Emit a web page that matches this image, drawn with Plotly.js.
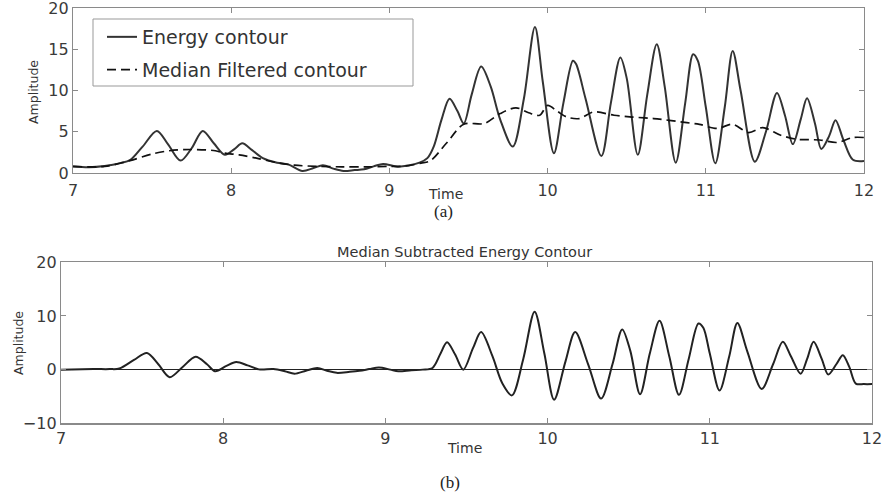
<!DOCTYPE html>
<html>
<head>
<meta charset="utf-8">
<script src="https://cdn.plot.ly/plotly-3.0.1.min.js"></script>
<style>html,body{margin:0;padding:0;background:#fff;}#chart{width:886px;height:497px;}</style>
</head>
<body>
<div id="chart"></div>
<script>
// ---- data ----
const energyTime = [7.00,7.10,7.20,7.30,7.36,7.44,7.53,7.60,7.68,7.75,7.82,7.89,7.96,8.02,8.07,8.13,8.20,8.29,8.36,8.45,8.52,8.58,8.65,8.71,8.78,8.84,8.90,8.96,9.05,9.12,9.19,9.24,9.28,9.33,9.38,9.43,9.47,9.52,9.58,9.64,9.70,9.78,9.85,9.92,9.97,10.04,10.10,10.16,10.18,10.24,10.34,10.40,10.46,10.50,10.57,10.63,10.69,10.74,10.81,10.87,10.92,10.95,11.00,11.06,11.12,11.17,11.22,11.31,11.38,11.45,11.50,11.55,11.60,11.64,11.69,11.73,11.78,11.82,11.87,11.93,12.00];
const energyAmp  = [0.80,0.70,0.85,1.20,1.55,3.2,5.1,3.5,1.5,3.0,5.1,3.6,2.2,2.9,3.6,2.8,1.8,1.25,1.05,0.25,0.6,0.95,0.5,0.25,0.35,0.45,0.8,1.1,0.77,0.9,1.25,1.8,3.2,6.5,9.0,7.5,6.0,9.5,12.9,10.5,6.5,3.2,9.0,17.7,11.0,2.4,8.5,13.6,13.2,9.0,2.06,8.5,14.0,11.5,2.2,9.5,15.6,10.5,1.25,8.5,14.4,13.6,8.0,1.17,8.0,14.8,10.0,1.37,5.0,9.7,7.0,3.5,6.5,9.05,6.0,2.9,4.5,6.4,4.0,1.6,1.45];

const medianTime = [7.00,7.20,7.36,7.50,7.61,7.75,7.90,7.96,8.05,8.16,8.29,8.40,8.55,8.70,8.85,9.00,9.10,9.20,9.26,9.36,9.47,9.60,9.70,9.80,9.88,9.95,10.00,10.06,10.12,10.20,10.29,10.42,10.52,10.67,10.88,10.96,11.07,11.17,11.27,11.36,11.47,11.57,11.72,11.83,11.93,12.00];
const medianAmp  = [0.80,0.80,1.50,2.3,2.7,2.85,2.7,2.4,2.2,1.8,1.25,0.95,0.8,0.75,0.75,0.8,0.85,1.2,1.5,3.6,5.9,6.0,7.2,7.9,7.3,7.0,8.2,7.5,6.8,6.6,7.4,7.0,6.8,6.6,6.1,5.9,5.4,5.9,4.9,5.5,4.6,4.1,4.0,3.7,4.3,4.3];

const diffTime = [7.00,7.20,7.30,7.36,7.45,7.53,7.60,7.67,7.75,7.83,7.90,7.95,8.02,8.08,8.15,8.22,8.31,8.38,8.44,8.51,8.58,8.64,8.70,8.78,8.84,8.90,8.96,9.03,9.08,9.16,9.23,9.29,9.34,9.38,9.43,9.48,9.54,9.59,9.66,9.72,9.78,9.85,9.92,9.98,10.04,10.11,10.17,10.25,10.33,10.40,10.46,10.51,10.57,10.63,10.69,10.75,10.81,10.87,10.93,10.96,11.00,11.06,11.12,11.17,11.23,11.32,11.39,11.45,11.50,11.56,11.60,11.64,11.69,11.73,11.78,11.82,11.86,11.90,11.95,12.00];
const diffAmp  = [0.0,0.1,0.1,0.2,1.8,3.1,1.0,-1.4,0.5,2.4,1.0,-0.3,0.7,1.4,0.8,0.05,0.1,-0.3,-0.75,-0.2,0.3,-0.2,-0.6,-0.4,-0.2,0.1,0.4,0.0,-0.3,-0.1,0.0,0.3,3.0,5.1,2.8,0.0,4.0,7.0,2.5,-2.5,-4.8,2.0,10.8,3.0,-5.6,1.5,7.0,1.0,-5.4,1.0,7.5,3.5,-4.6,3.0,9.1,2.5,-4.7,2.0,8.6,7.8,3.0,-3.9,2.5,8.7,3.5,-3.6,1.0,5.2,2.5,-0.75,2.0,5.2,2.0,-0.9,1.0,2.7,0.5,-2.6,-2.7,-2.7];

const xTicks = [7,8,9,10,11,12];
const yTicksTop = [0,5,10,15,20];
const yTicksBottom = [-10,0,10,20];
const seriesNames = ['Energy contour','Median Filtered contour'];
const bottomTitle = 'Median Subtracted Energy Contour';

// ---- layout helpers ----
const W = 886, H = 497;
const px = v => v / W;
const py = v => 1 - v / H;
const FONT = 'DejaVu Sans, Arial, sans-serif';

const axisCommon = {
  showline: true, mirror: 'ticks', linecolor: '#8a8a8a', linewidth: 1.2,
  ticks: 'inside', ticklen: 5, tickcolor: '#8a8a8a', tickwidth: 1,
  showgrid: false, zeroline: false, ticklabeloverflow: 'allow',
  tickfont: {family: FONT, size: 16, color: '#3a3a3a'}
};

const traces = [
  {x: energyTime, y: energyAmp, xaxis: 'x', yaxis: 'y', type: 'scatter', mode: 'lines',
   name: seriesNames[0], legendgroup: 'a', line: {color: '#333', width: 2, shape: 'spline', smoothing: 0.9}},
  {x: medianTime, y: medianAmp, xaxis: 'x', yaxis: 'y', type: 'scatter', mode: 'lines',
   name: seriesNames[1], legendgroup: 'b', line: {color: '#111', width: 1.7, dash: '9px,5px', shape: 'spline', smoothing: 0.9}},
  {x: diffTime, y: diffAmp, xaxis: 'x2', yaxis: 'y2', type: 'scatter', mode: 'lines',
   showlegend: false, line: {color: '#222', width: 2, shape: 'spline', smoothing: 0.9}}
];

const layout = {
  width: W, height: H,
  margin: {l: 0, r: 0, t: 0, b: 0},
  paper_bgcolor: '#fff', plot_bgcolor: '#fff',
  showlegend: true,
  legend: {x: px(102), y: py(18), xanchor: 'left', yanchor: 'top',
           bgcolor: 'rgba(0,0,0,0)', borderwidth: 0, traceorder: 'grouped', tracegroupgap: 5,
           font: {family: FONT, size: 19, color: '#333'}},
  xaxis: Object.assign({}, axisCommon, {domain: [px(73), px(864)], range: [7, 12], tickvals: xTicks, anchor: 'y', ticklabelstandoff: 3}),
  yaxis: Object.assign({}, axisCommon, {domain: [py(173), py(8)], range: [0, 20], tickvals: yTicksTop, anchor: 'x'}),
  xaxis2: Object.assign({}, axisCommon, {domain: [px(61), px(872)], range: [7, 12], tickvals: xTicks, anchor: 'y2'}),
  yaxis2: Object.assign({}, axisCommon, {domain: [py(423.3), py(262.3)], range: [-10, 20], tickvals: yTicksBottom, anchor: 'x2',
           zeroline: true, zerolinecolor: '#222', zerolinewidth: 1.2}),
  shapes: [
    {type: 'rect', xref: 'paper', yref: 'paper', x0: px(93), x1: px(413), y0: py(86), y1: py(19),
     line: {color: '#999', width: 1}, fillcolor: 'rgba(0,0,0,0)'}
  ],
  annotations: [
    {text: 'Time', xref: 'paper', yref: 'paper', x: px(446), y: py(194), showarrow: false,
     font: {family: FONT, size: 14, color: '#333'}, xanchor: 'center', yanchor: 'middle'},
    {text: 'Amplitude', xref: 'paper', yref: 'paper', x: px(33), y: py(92), showarrow: false, textangle: -90,
     font: {family: FONT, size: 12.5, color: '#333'}, xanchor: 'center', yanchor: 'middle'},
    {text: '(a)', xref: 'paper', yref: 'paper', x: px(443), y: py(211), showarrow: false,
     font: {family: 'Liberation Serif, Times New Roman, serif', size: 17, color: '#222'}, xanchor: 'center', yanchor: 'middle'},
    {text: bottomTitle, xref: 'paper', yref: 'paper', x: px(464), y: py(252), showarrow: false,
     font: {family: FONT, size: 14.5, color: '#333'}, xanchor: 'center', yanchor: 'middle'},
    {text: 'Time', xref: 'paper', yref: 'paper', x: px(465), y: py(447.5), showarrow: false,
     font: {family: FONT, size: 14, color: '#333'}, xanchor: 'center', yanchor: 'middle'},
    {text: 'Amplitude', xref: 'paper', yref: 'paper', x: px(18), y: py(343), showarrow: false, textangle: -90,
     font: {family: FONT, size: 12.5, color: '#333'}, xanchor: 'center', yanchor: 'middle'},
    {text: '(b)', xref: 'paper', yref: 'paper', x: px(450), y: py(482), showarrow: false,
     font: {family: 'Liberation Serif, Times New Roman, serif', size: 17, color: '#222'}, xanchor: 'center', yanchor: 'middle'}
  ]
};

Plotly.newPlot('chart', traces, layout, {staticPlot: true, displayModeBar: false});
</script>
</body>
</html>
